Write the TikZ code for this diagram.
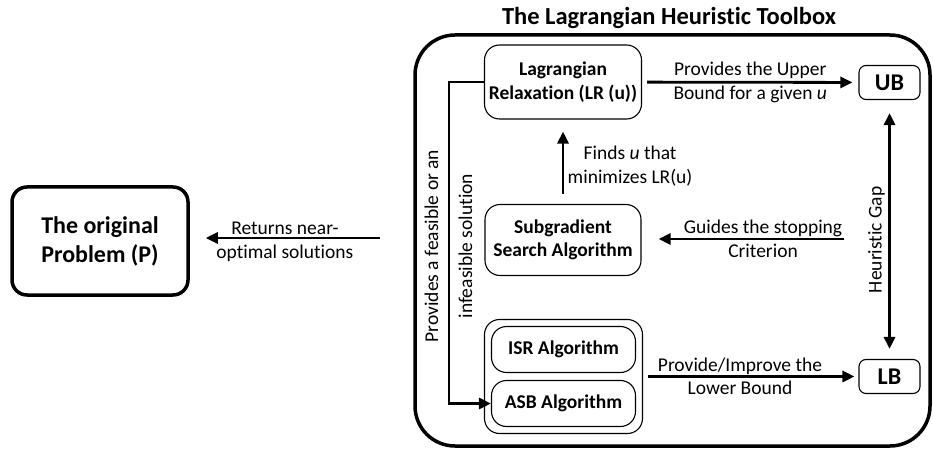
\documentclass[tikz,border=0pt]{standalone}
\usepackage{fontspec}
\setmainfont{Carlito}[Ligatures=NoCommon]
\usetikzlibrary{arrows.meta,positioning}

\begin{document}
\begin{tikzpicture}[x=1pt, y=-1pt,
  >={Triangle[length=12pt,width=11pt]},
  every node/.style={font=\fontsize{19.5}{23.5}\selectfont, align=center},
  algbox/.style={draw, line width=1.1pt, rounded corners=15pt, inner sep=0pt,
    font=\fontsize{19.5}{23.5}\selectfont\bfseries},
  bndbox/.style={draw, line width=1.1pt, rounded corners=7pt, inner sep=0pt,
    minimum width=61pt, minimum height=34pt, font=\fontsize{24}{29}\selectfont\bfseries},
  arr/.style={->, line width=2.8pt}]
  \useasboundingbox (0,0) rectangle (933,454);

  % Draw toolbox frame
  \draw[line width=3.5pt, rounded corners=40pt] (415,35) rectangle (930,446);
  \node[anchor=base, font=\fontsize{24.5}{29}\selectfont\bfseries] (title) at (669,25)
    {The Lagrangian Heuristic Toolbox};

  % Draw original problem
  \node[draw, line width=3.5pt, rounded corners=15pt, minimum width=176pt, minimum height=108pt,
    font=\fontsize{24}{29}\selectfont\bfseries] (P) at (100,241) {The original\\Problem (P)};

  % Draw algorithm boxes
  \node[algbox, minimum width=157pt, minimum height=74pt] (LR) at (563,82) {Lagrangian\\Relaxation (LR (u))};
  \node[algbox, minimum width=156pt, minimum height=71pt] (SG) at (563,240) {Subgradient\\Search Algorithm};
  \node[algbox, minimum width=158pt, minimum height=114pt] (grp) at (563.5,376.5) {};
  \node[algbox, minimum width=144pt, minimum height=46pt] (ISR) at (563.5,349.5) {ISR Algorithm};
  \node[algbox, minimum width=144pt, minimum height=46pt] (ASB) at (563.5,403.5) {ASB Algorithm};

  % Draw bounds
  \foreach \b/\y in {UB/82.5, LB/376.5}
    \node[bndbox] (\b) at (889.5,\y) {\b};

  % Draw arrows
  \draw[arr, shorten <=5pt, shorten >=6pt] (LR) -- node {Provides the Upper\\Bound for a given \textit{u}} (UB);
  \draw[arr, shorten <=10pt, shorten >=12pt] (SG) -- node[pos=.45, right] {Finds \textit{u} that\\minimizes LR(u)} (LR);
  \coordinate (gs) at (844,239);
  \draw[arr, shorten >=17pt] (gs) -- node[pos=.4] {Guides the stopping\\Criterion} (gs -| SG.east);
  \draw[arr, <->, shorten <=10pt, shorten >=13pt] (LB) -- node[pos=.46, sloped, above] {Heuristic Gap} (UB);
  \draw[arr, shorten <=5pt, shorten >=4pt] (grp) -- node[pos=.45] {Provide/Improve the\\Lower Bound} (LB);

  % Draw feedback line
  \draw[arr] (LR.west) -- ++(-35,0) coordinate (fb) |- (ASB.west);
  \node[rotate=90, anchor=base] (fb1) at (438,246) {Provides a feasible or an};
  \node[rotate=90, anchor=base] (fb2) at (472,246) {infeasible solution};

  % Draw returned solutions
  \coordinate (rt) at (380,238);
  \draw[arr, shorten >=16pt] (rt) -- node[yshift=-4pt] {Returns near-\\optimal solutions} (rt -| P.east);
\end{tikzpicture}
\end{document}
